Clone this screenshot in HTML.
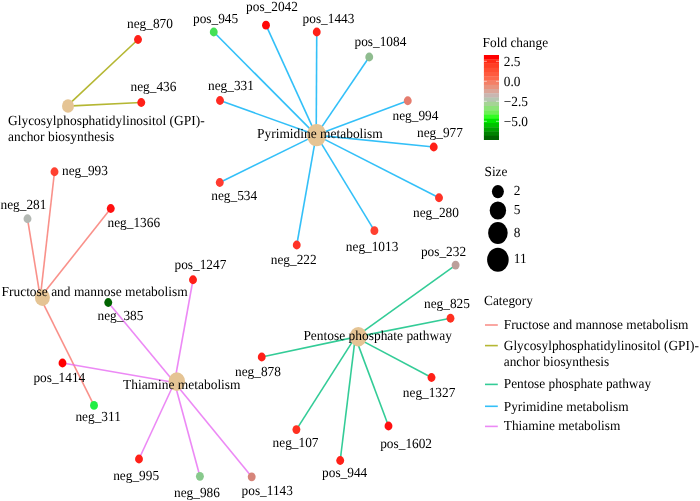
<!DOCTYPE html>
<html><head><meta charset="utf-8"><title>Network</title>
<style>
html,body{margin:0;padding:0;background:#fff;width:700px;height:501px;overflow:hidden;}
svg{display:block;will-change:transform;}
text{font-family:"Liberation Serif",serif;font-size:13.33px;fill:#000;text-rendering:geometricPrecision;}
</style></head><body>
<svg width="700" height="501" viewBox="0 0 700 501">
<rect width="700" height="501" fill="#fff"/>

<g stroke-width="1.6" stroke-linecap="butt" fill="none" stroke-opacity="0.8">
<line x1="67.0" y1="106.1" x2="138" y2="39.5" stroke="#A3A500"/>
<line x1="67.0" y1="106.1" x2="141.25" y2="102.5" stroke="#A3A500"/>
<line x1="316.20000000000005" y1="135.1" x2="213.75" y2="32" stroke="#00B0F6"/>
<line x1="316.20000000000005" y1="135.1" x2="266" y2="25.2" stroke="#00B0F6"/>
<line x1="316.20000000000005" y1="135.1" x2="316.75" y2="32" stroke="#00B0F6"/>
<line x1="316.20000000000005" y1="135.1" x2="369.25" y2="57" stroke="#00B0F6"/>
<line x1="316.20000000000005" y1="135.1" x2="220" y2="100.5" stroke="#00B0F6"/>
<line x1="316.20000000000005" y1="135.1" x2="407.75" y2="100.75" stroke="#00B0F6"/>
<line x1="316.20000000000005" y1="135.1" x2="433.75" y2="147" stroke="#00B0F6"/>
<line x1="316.20000000000005" y1="135.1" x2="439" y2="197.75" stroke="#00B0F6"/>
<line x1="316.20000000000005" y1="135.1" x2="374.4" y2="230.7" stroke="#00B0F6"/>
<line x1="316.20000000000005" y1="135.1" x2="296.75" y2="245" stroke="#00B0F6"/>
<line x1="316.20000000000005" y1="135.1" x2="219.75" y2="182.5" stroke="#00B0F6"/>
<line x1="40.3" y1="297.6" x2="54.5" y2="171.75" stroke="#F8766D"/>
<line x1="40.3" y1="297.6" x2="27.5" y2="218.75" stroke="#F8766D"/>
<line x1="40.3" y1="297.6" x2="110.75" y2="208.5" stroke="#F8766D"/>
<line x1="40.3" y1="297.6" x2="94" y2="405.4" stroke="#F8766D"/>
<line x1="174.5" y1="382.5" x2="62.5" y2="363" stroke="#E76BF3"/>
<line x1="174.5" y1="382.5" x2="108.25" y2="302.5" stroke="#E76BF3"/>
<line x1="174.5" y1="382.5" x2="193" y2="279.75" stroke="#E76BF3"/>
<line x1="174.5" y1="382.5" x2="139" y2="459" stroke="#E76BF3"/>
<line x1="174.5" y1="382.5" x2="199.9" y2="476.3" stroke="#E76BF3"/>
<line x1="174.5" y1="382.5" x2="251.7" y2="476.8" stroke="#E76BF3"/>
<line x1="355.3" y1="337.09999999999997" x2="455.6" y2="265.1" stroke="#00BF7D"/>
<line x1="355.3" y1="337.09999999999997" x2="450.5" y2="318.25" stroke="#00BF7D"/>
<line x1="355.3" y1="337.09999999999997" x2="431.5" y2="377.5" stroke="#00BF7D"/>
<line x1="355.3" y1="337.09999999999997" x2="388.5" y2="426" stroke="#00BF7D"/>
<line x1="355.3" y1="337.09999999999997" x2="340.2" y2="460.5" stroke="#00BF7D"/>
<line x1="355.3" y1="337.09999999999997" x2="296.4" y2="429.6" stroke="#00BF7D"/>
<line x1="355.3" y1="337.09999999999997" x2="261.75" y2="357" stroke="#00BF7D"/>
</g>
<ellipse cx="68" cy="106.0" rx="6.0" ry="6.78" fill="#E5C494"/>
<ellipse cx="316.6" cy="135.1" rx="9.8" ry="11.07" fill="#E5C494"/>
<ellipse cx="42.4" cy="297.6" rx="7.5" ry="8.47" fill="#E5C494"/>
<ellipse cx="176.8" cy="381.6" rx="8.3" ry="9.38" fill="#E5C494"/>
<ellipse cx="358.3" cy="336.7" rx="8.6" ry="9.72" fill="#E5C494"/>
<ellipse cx="138" cy="39.5" rx="3.95" ry="4.4" fill="#FF2018"/>
<ellipse cx="141.25" cy="102.5" rx="3.95" ry="4.4" fill="#FF2018"/>
<ellipse cx="213.75" cy="32" rx="3.95" ry="4.4" fill="#44E055"/>
<ellipse cx="266" cy="25.2" rx="3.95" ry="4.4" fill="#FF0808"/>
<ellipse cx="316.75" cy="32" rx="3.95" ry="4.4" fill="#FF2018"/>
<ellipse cx="369.25" cy="57" rx="3.95" ry="4.4" fill="#8FBC8F"/>
<ellipse cx="220" cy="100.5" rx="3.95" ry="4.4" fill="#FF2A22"/>
<ellipse cx="407.75" cy="100.75" rx="3.95" ry="4.4" fill="#E57C6E"/>
<ellipse cx="433.75" cy="147" rx="3.95" ry="4.4" fill="#FF2018"/>
<ellipse cx="439" cy="197.75" rx="3.95" ry="4.4" fill="#FF3327"/>
<ellipse cx="374.4" cy="230.7" rx="3.95" ry="4.4" fill="#FF4030"/>
<ellipse cx="296.75" cy="245" rx="3.95" ry="4.4" fill="#FF3327"/>
<ellipse cx="219.75" cy="182.5" rx="3.95" ry="4.4" fill="#FF3B30"/>
<ellipse cx="54.5" cy="171.75" rx="3.95" ry="4.4" fill="#FF4030"/>
<ellipse cx="27.5" cy="218.75" rx="3.95" ry="4.4" fill="#B3B8B3"/>
<ellipse cx="110.75" cy="208.5" rx="3.95" ry="4.4" fill="#FF1010"/>
<ellipse cx="94" cy="405.4" rx="3.95" ry="4.4" fill="#22EE44"/>
<ellipse cx="62.5" cy="363" rx="3.95" ry="4.4" fill="#FF0000"/>
<ellipse cx="108.25" cy="302.5" rx="3.95" ry="4.4" fill="#006400"/>
<ellipse cx="193" cy="279.75" rx="3.95" ry="4.4" fill="#FF2018"/>
<ellipse cx="139" cy="459" rx="3.95" ry="4.4" fill="#FF2018"/>
<ellipse cx="199.9" cy="476.3" rx="3.95" ry="4.4" fill="#88C98C"/>
<ellipse cx="251.7" cy="476.8" rx="3.95" ry="4.4" fill="#D6857A"/>
<ellipse cx="455.6" cy="265.1" rx="3.95" ry="4.4" fill="#BC9F9A"/>
<ellipse cx="450.5" cy="318.25" rx="3.95" ry="4.4" fill="#FF3020"/>
<ellipse cx="431.5" cy="377.5" rx="3.95" ry="4.4" fill="#FF2018"/>
<ellipse cx="388.5" cy="426" rx="3.95" ry="4.4" fill="#FF1010"/>
<ellipse cx="340.2" cy="460.5" rx="3.95" ry="4.4" fill="#FF2018"/>
<ellipse cx="296.4" cy="429.6" rx="3.95" ry="4.4" fill="#FF3020"/>
<ellipse cx="261.75" cy="357" rx="3.95" ry="4.4" fill="#FF2018"/>
<text transform="translate(127 28.4) scale(1 1.04)">neg_870</text>
<text transform="translate(130.5 90.9) scale(1 1.04)">neg_436</text>
<text transform="translate(193 23.4) scale(1 1.04)">pos_945</text>
<text transform="translate(246.1 10.9) scale(1 1.04)">pos_2042</text>
<text transform="translate(302.6 22.7) scale(1 1.04)">pos_1443</text>
<text transform="translate(354.5 45.9) scale(1 1.04)">pos_1084</text>
<text transform="translate(208 90.4) scale(1 1.04)">neg_331</text>
<text transform="translate(392.5 119.9) scale(1 1.04)">neg_994</text>
<text transform="translate(417 136.9) scale(1 1.04)">neg_977</text>
<text transform="translate(413 216.9) scale(1 1.04)">neg_280</text>
<text transform="translate(345.8 250.7) scale(1 1.04)">neg_1013</text>
<text transform="translate(270.75 263.9) scale(1 1.04)">neg_222</text>
<text transform="translate(211.25 199.9) scale(1 1.04)">neg_534</text>
<text transform="translate(62 175.4) scale(1 1.04)">neg_993</text>
<text transform="translate(0.5 208.9) scale(1 1.04)">neg_281</text>
<text transform="translate(107.5 226.9) scale(1 1.04)">neg_1366</text>
<text transform="translate(75.4 421.2) scale(1 1.04)">neg_311</text>
<text transform="translate(33.4 382.4) scale(1 1.04)">pos_1414</text>
<text transform="translate(97.5 319.9) scale(1 1.04)">neg_385</text>
<text transform="translate(174.5 269.4) scale(1 1.04)">pos_1247</text>
<text transform="translate(113.2 479.5) scale(1 1.04)">neg_995</text>
<text transform="translate(174 496.6) scale(1 1.04)">neg_986</text>
<text transform="translate(241.6 494.8) scale(1 1.04)">pos_1143</text>
<text transform="translate(420.9 256.4) scale(1 1.04)">pos_232</text>
<text transform="translate(424 308.4) scale(1 1.04)">neg_825</text>
<text transform="translate(402.8 397.0) scale(1 1.04)">neg_1327</text>
<text transform="translate(380.2 447.8) scale(1 1.04)">pos_1602</text>
<text transform="translate(322.1 477.2) scale(1 1.04)">pos_944</text>
<text transform="translate(272.6 447.1) scale(1 1.04)">neg_107</text>
<text transform="translate(235 375.9) scale(1 1.04)">neg_878</text>
<text transform="translate(8 124.8) scale(1.008 1.04)">Glycosylphosphatidylinositol (GPI)-</text>
<text transform="translate(8 140.8) scale(1.008 1.04)">anchor biosynthesis</text>
<text transform="translate(257 137.8) scale(1.008 1.04)">Pyrimidine metabolism</text>
<text transform="translate(1.5 296.3) scale(1.008 1.04)">Fructose and mannose metabolism</text>
<text transform="translate(123.0 389.2) scale(1.008 1.04)">Thiamine metabolism</text>
<text transform="translate(303.4 340.05) scale(1.008 1.04)">Pentose phosphate pathway</text>
<text transform="translate(482.6 46.5) scale(1 1.04)">Fold change</text>
<g>
<rect x="483.9" y="55.000" width="15.10" height="4.600" fill="#FF0000"/>
<rect x="483.9" y="59.250" width="15.10" height="4.600" fill="#FF2A15"/>
<rect x="483.9" y="63.500" width="15.10" height="4.600" fill="#FF3E24"/>
<rect x="483.9" y="67.750" width="15.10" height="4.600" fill="#FF4D31"/>
<rect x="483.9" y="72.000" width="15.10" height="4.600" fill="#FF5A3E"/>
<rect x="483.9" y="76.250" width="15.10" height="4.600" fill="#FD694D"/>
<rect x="483.9" y="80.500" width="15.10" height="4.600" fill="#F47F66"/>
<rect x="483.9" y="84.750" width="15.10" height="4.600" fill="#E9937E"/>
<rect x="483.9" y="89.000" width="15.10" height="4.600" fill="#DBA598"/>
<rect x="483.9" y="93.250" width="15.10" height="4.600" fill="#C9B6B1"/>
<rect x="483.9" y="97.500" width="15.10" height="4.600" fill="#B6C6B1"/>
<rect x="483.9" y="101.750" width="15.10" height="4.600" fill="#A5D495"/>
<rect x="483.9" y="106.000" width="15.10" height="4.600" fill="#8DE278"/>
<rect x="483.9" y="110.250" width="15.10" height="4.600" fill="#6DEF56"/>
<rect x="483.9" y="114.500" width="15.10" height="4.600" fill="#32FC23"/>
<rect x="483.9" y="118.750" width="15.10" height="4.600" fill="#00E500"/>
<rect x="483.9" y="123.000" width="15.10" height="4.600" fill="#00C300"/>
<rect x="483.9" y="127.250" width="15.10" height="4.600" fill="#00A200"/>
<rect x="483.9" y="131.500" width="15.10" height="4.600" fill="#008200"/>
<rect x="483.9" y="135.750" width="15.10" height="4.250" fill="#006400"/>
</g>
<line x1="483.9" x2="486.9" y1="61.3" y2="61.3" stroke="#fff" stroke-width="0.55"/>
<line x1="496.0" x2="499.0" y1="61.3" y2="61.3" stroke="#fff" stroke-width="0.55"/>
<text transform="translate(503.8 65.8) scale(1 1.04)">2.5</text>
<line x1="483.9" x2="486.9" y1="81.3" y2="81.3" stroke="#fff" stroke-width="0.55"/>
<line x1="496.0" x2="499.0" y1="81.3" y2="81.3" stroke="#fff" stroke-width="0.55"/>
<text transform="translate(503.8 85.8) scale(1 1.04)">0.0</text>
<line x1="483.9" x2="486.9" y1="101.3" y2="101.3" stroke="#fff" stroke-width="0.55"/>
<line x1="496.0" x2="499.0" y1="101.3" y2="101.3" stroke="#fff" stroke-width="0.55"/>
<text transform="translate(503.8 105.8) scale(1 1.04)">−2.5</text>
<line x1="483.9" x2="486.9" y1="121.3" y2="121.3" stroke="#fff" stroke-width="0.55"/>
<line x1="496.0" x2="499.0" y1="121.3" y2="121.3" stroke="#fff" stroke-width="0.55"/>
<text transform="translate(503.8 125.8) scale(1 1.04)">−5.0</text>
<text transform="translate(484.5 176.25) scale(1 1.04)">Size</text>
<ellipse cx="497.9" cy="191.6" rx="6.0" ry="6.66" fill="#000"/>
<text transform="translate(513.75 195.4) scale(1 1.04)">2</text>
<ellipse cx="497.9" cy="210.5" rx="8.2" ry="9.10" fill="#000"/>
<text transform="translate(513.75 214.4) scale(1 1.04)">5</text>
<ellipse cx="497.9" cy="233.0" rx="9.8" ry="10.88" fill="#000"/>
<text transform="translate(513.75 236.6) scale(1 1.04)">8</text>
<ellipse cx="497.9" cy="259.8" rx="10.8" ry="11.99" fill="#000"/>
<text transform="translate(513.75 263.0) scale(1 1.04)">11</text>
<text transform="translate(484.0 305.3) scale(1 1.04)">Category</text>
<line x1="485" x2="497.8" y1="325.0" y2="325.0" stroke="#F8766D" stroke-width="1.6" stroke-opacity="0.8"/>
<text transform="translate(503.75 329.0) scale(1 1.04)">Fructose and mannose metabolism</text>
<line x1="485" x2="497.8" y1="345.6" y2="345.6" stroke="#A3A500" stroke-width="1.6" stroke-opacity="0.8"/>
<text transform="translate(503.75 349.6) scale(1 1.04)">Glycosylphosphatidylinositol (GPI)-</text>
<text transform="translate(503.75 365.5) scale(1 1.04)">anchor biosynthesis</text>
<line x1="485" x2="497.8" y1="384.4" y2="384.4" stroke="#00BF7D" stroke-width="1.6" stroke-opacity="0.8"/>
<text transform="translate(503.75 388.4) scale(1 1.04)">Pentose phosphate pathway</text>
<line x1="485" x2="497.8" y1="406.3" y2="406.3" stroke="#00B0F6" stroke-width="1.6" stroke-opacity="0.8"/>
<text transform="translate(503.75 410.6) scale(1 1.04)">Pyrimidine metabolism</text>
<line x1="485" x2="497.8" y1="426.4" y2="426.4" stroke="#E76BF3" stroke-width="1.6" stroke-opacity="0.8"/>
<text transform="translate(503.75 430.1) scale(1 1.04)">Thiamine metabolism</text>
</svg></body></html>
